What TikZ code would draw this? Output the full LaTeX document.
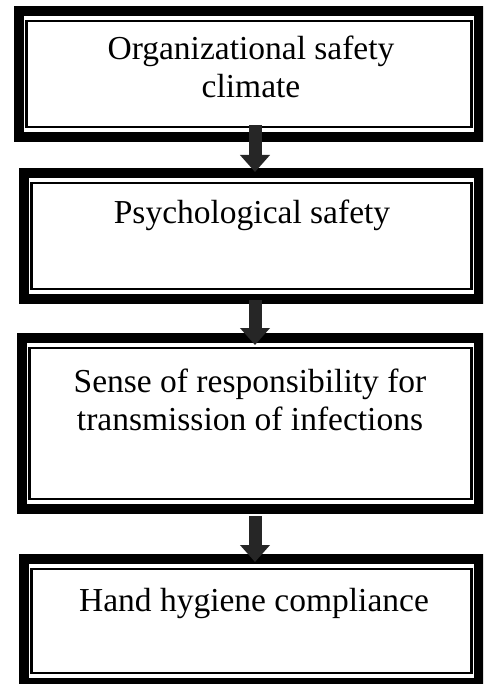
\documentclass[tikz,border=0pt]{standalone}
\usepackage{fontspec}
\setmainfont{Liberation Serif}
\usetikzlibrary{arrows.meta,calc}

\begin{document}
\begin{tikzpicture}[x=1pt, y=-1pt, box/.style={draw, line width=10pt, inner sep=0pt, outer sep=0pt}, txt/.style={font=\fontsize{33.5}{38}\selectfont, align=center, anchor=base}, flow/.style={draw=black!85, line width=13pt, -{Triangle[length=17pt, width=29pt]}}]
	\path[use as bounding box, clip] (0,0) rectangle (483,684);
	\node[box, minimum width=460pt, minimum height=126pt] (b1) at (249,74) {};
	\node[box, minimum width=455pt, minimum height=126pt] (b2) at (251.5,236) {};
	\node[box, minimum width=457pt, minimum height=171pt] (b3) at (250.5,423.5) {};
	\node[box, minimum width=455pt, minimum height=124pt] (b4) at (251.5,621) {};
	\foreach \b in {b1,b2,b3,b4}
		\draw[line width=2.5pt] ([shift={(7.5,10)}]\b.north west) rectangle ([shift={(-7.5,-10)}]\b.south east);
	\node[txt] (t1) at (251,98) {Organizational safety\\climate};
	\node[txt] (t2) at (252,224) {Psychological safety};
	\node[txt] (t3) at (250,430) {Sense of responsibility for\\transmission of infections};
	\node[txt] (t4) at (254,611) {Hand hygiene compliance};
	\coordinate (axis) at (255,0);
	\draw[flow] ($(b1.south -| axis)+(0,-12)$) -- ($(b2.north -| axis)+(0,-1)$);
	\draw[flow] ($(b2.south -| axis)+(0,1)$) -- ($(b3.north -| axis)+(0,7)$);
	\draw[flow] ($(b3.south -| axis)+(0,7)$) -- ($(b4.north -| axis)+(0,3)$);
\end{tikzpicture}
\end{document}
